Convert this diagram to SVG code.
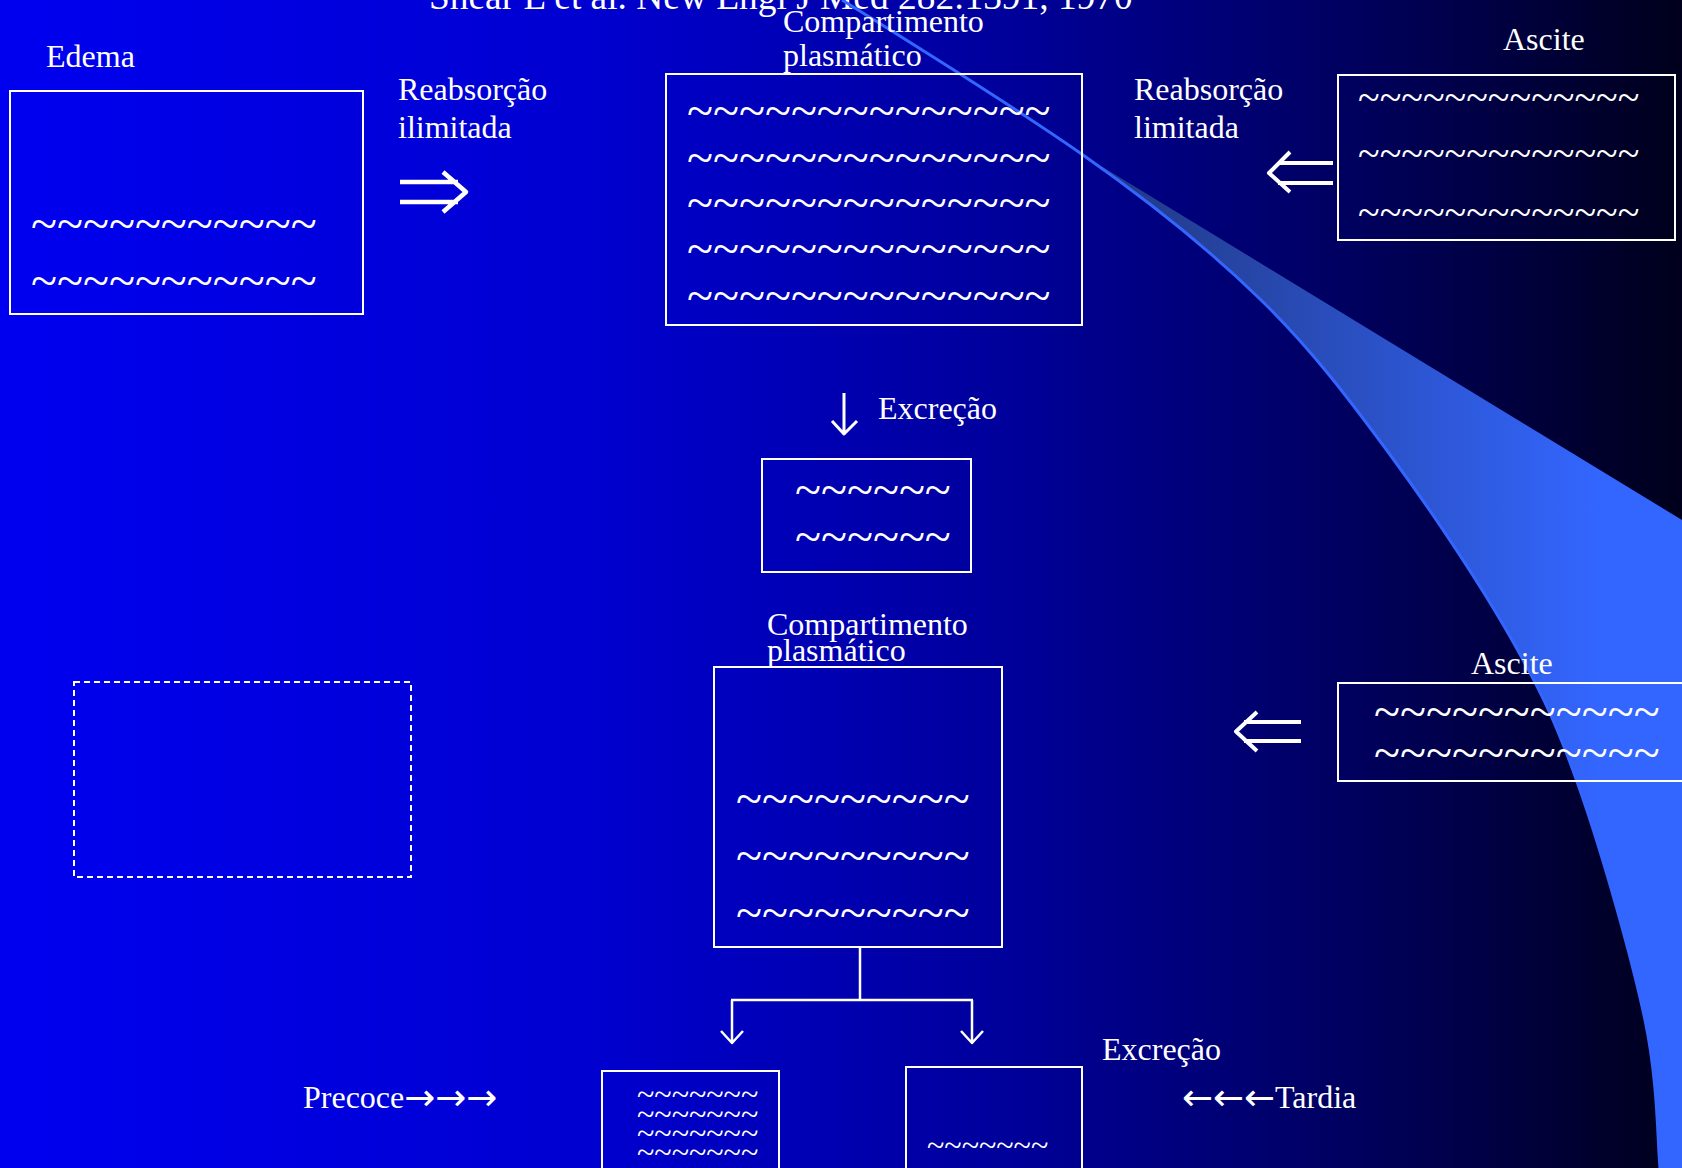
<svg xmlns="http://www.w3.org/2000/svg" width="1682" height="1168" viewBox="0 0 1682 1168">
<defs>
<linearGradient id="bg" x1="0" y1="0" x2="1682" y2="0" gradientUnits="userSpaceOnUse">
<stop offset="0" stop-color="#0000f0"/>
<stop offset="0.35" stop-color="#0000d0"/>
<stop offset="0.6" stop-color="#00009a"/>
<stop offset="0.8" stop-color="#000060"/>
<stop offset="1" stop-color="#00001c"/>
</linearGradient>
<linearGradient id="sw" x1="1060" y1="0" x2="1600" y2="0" gradientUnits="userSpaceOnUse">
<stop offset="0" stop-color="#1f3478"/>
<stop offset="1" stop-color="#3366ff"/>
</linearGradient>
</defs>
<style>
.box{fill:none;stroke:#fff;stroke-width:2}
.dash{fill:none;stroke:#fff;stroke-width:2;stroke-dasharray:6 4}
.lbl{font-family:"Liberation Serif","Times New Roman",serif;font-size:32px;fill:#fff}
.ttl{font-family:"Liberation Serif","Times New Roman",serif;font-size:37.4px;fill:#fff}
.wv{font-family:"Liberation Serif","Times New Roman",serif;font-size:48px;fill:#fff}
.wm{font-family:"Liberation Serif","Times New Roman",serif;font-size:40px;fill:#fff}
.ws{font-family:"Liberation Serif","Times New Roman",serif;font-size:32px;fill:#fff}
.arr{font-family:"DejaVu Sans",sans-serif;font-size:37px}
.c{fill:none;stroke:#fff;stroke-linecap:butt;stroke-linejoin:round}
</style>
<rect x="0" y="0" width="1682" height="1168" fill="url(#bg)"/>
<text class="ttl" x="429" y="9">Shear L et al. New Engl J Med 282:1391, 1970</text>
<g id="swoosh">
<path d="M1083,155 L1682,520 L1682,1168 L1660,1168 C1657.5,1143.3 1658.3,1083 1645,1020 C1631.7,957 1602.2,853.3 1580,790 C1557.8,726.7 1543.5,695.7 1512,640 C1480.5,584.3 1432.8,512.7 1391,456 C1349.2,399.3 1312.3,350.2 1261,300 C1209.7,249.8 1154.5,205 1083,155 Z" fill="url(#sw)"/>
<path d="M842,0 C884,26 1011.5,105 1083,155 C1154.5,205 1209.7,249.8 1261,300 C1312.3,350.2 1349.2,399.3 1391,456 C1432.8,512.7 1480.5,584.3 1512,640 C1543.5,695.7 1557.8,726.7 1580,790 C1602.2,853.3 1631.7,957 1645,1020 C1658.3,1083 1657.5,1143.3 1660,1168" fill="none" stroke="#3366ff" stroke-width="3"/>
</g>
<g id="edema">
<text class="lbl" x="46" y="67">Edema</text>
<rect class="box" x="10" y="91" width="353" height="223"/>
<text class="wv" x="31" y="240">~~~~~~~~~~~</text>
<text class="wv" x="31" y="297">~~~~~~~~~~~</text>
</g>
<g id="plasma-top">
<text class="lbl" x="783" y="32">Compartimento</text>
<text class="lbl" x="783" y="66">plasmático</text>
<rect class="box" x="666" y="74" width="416" height="251"/>
<text class="wv" x="687" y="127">~~~~~~~~~~~~~~</text>
<text class="wv" x="687" y="174">~~~~~~~~~~~~~~</text>
<text class="wv" x="687" y="219">~~~~~~~~~~~~~~</text>
<text class="wv" x="687" y="265">~~~~~~~~~~~~~~</text>
<text class="wv" x="687" y="312">~~~~~~~~~~~~~~</text>
</g>
<g id="ascite-top">
<text class="lbl" x="1503" y="50">Ascite</text>
<rect class="box" x="1338" y="75" width="337" height="165"/>
<text class="wm" x="1358" y="111">~~~~~~~~~~~~~</text>
<text class="wm" x="1358" y="167">~~~~~~~~~~~~~</text>
<text class="wm" x="1358" y="226">~~~~~~~~~~~~~</text>
</g>
<g id="excrecao-top">
<rect class="box" x="762" y="459" width="209" height="113"/>
<text class="wv" x="795" y="506">~~~~~~</text>
<text class="wv" x="795" y="553">~~~~~~</text>
</g>
<g id="plasma-bottom">
<text class="lbl" x="767" y="635">Compartimento</text>
<text class="lbl" x="767" y="661">plasmático</text>
<rect class="box" x="714" y="667" width="288" height="280"/>
<text class="wv" x="736" y="815">~~~~~~~~~</text>
<text class="wv" x="736" y="872">~~~~~~~~~</text>
<text class="wv" x="736" y="929">~~~~~~~~~</text>
</g>
<g id="edema-empty">
<rect class="dash" x="74" y="682" width="337" height="195"/>
</g>
<g id="ascite-bottom">
<text class="lbl" x="1471" y="674">Ascite</text>
<rect class="box" x="1338" y="683" width="400" height="98"/>
<text class="wv" x="1374" y="728">~~~~~~~~~~~</text>
<text class="wv" x="1374" y="769">~~~~~~~~~~~</text>
</g>
<g id="precoce">
<text class="lbl" x="303" y="1108">Precoce<tspan class="arr" dy="2">→→→</tspan></text>
<rect class="box" x="602" y="1071" width="177" height="110"/>
<text class="ws" x="637" y="1105">~~~~~~~</text>
<text class="ws" x="637" y="1125">~~~~~~~</text>
<text class="ws" x="637" y="1144">~~~~~~~</text>
<text class="ws" x="637" y="1163">~~~~~~~</text>
</g>
<g id="tardia">
<text class="lbl" x="1102" y="1060">Excreção</text>
<text class="lbl" x="1182" y="1108"><tspan class="arr" dy="2">←←←</tspan><tspan dy="-2">Tardia</tspan></text>
<rect class="box" x="906" y="1067" width="176" height="115"/>
<text class="ws" x="927" y="1156">~~~~~~~</text>
</g>
<g id="connectors">
<text class="lbl" x="398" y="100">Reabsorção</text>
<text class="lbl" x="398" y="138">ilimitada</text>
<path class="c" stroke-width="4.5" d="M400,182 H458 M400,202 H458 M443,172 L466,192 L443,212"/>
<text class="lbl" x="1134" y="100">Reabsorção</text>
<text class="lbl" x="1134" y="138">limitada</text>
<path class="c" stroke-width="4" d="M1333,163 H1278 M1333,183 H1278 M1290,152 L1269,173 L1290,192"/>
<path class="c" stroke-width="3" d="M844,393 V434 M832,421 L844,434 L857,421"/>
<text class="lbl" x="878" y="419">Excreção</text>
<path class="c" stroke-width="4" d="M1301,722 H1244 M1301,741 H1244 M1257,712 L1236,731.5 L1257,751"/>
<path class="c" stroke-width="2.5" d="M860,947 V1000 M731,1000 H973 M732,1000 V1043 M972,1000 V1043 M721,1031 L732,1043 L743,1031 M961,1031 L972,1043 L983,1031"/>
</g>
</svg>
